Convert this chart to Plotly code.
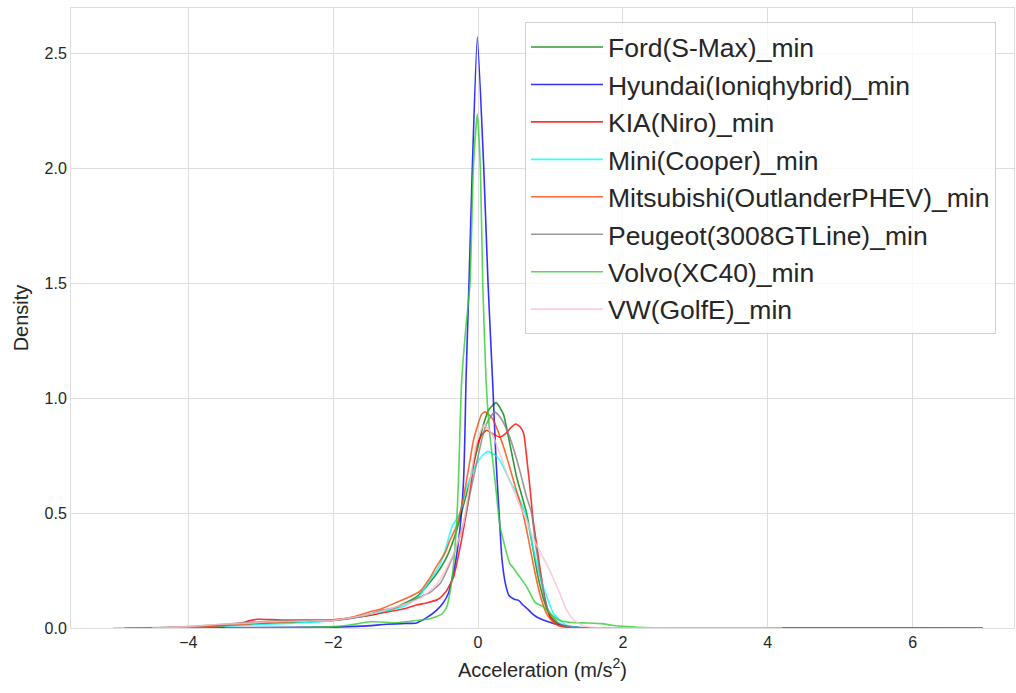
import plotly.graph_objects as go

# ---- data ----
names = ["Ford(S-Max)_min", "Hyundai(Ioniqhybrid)_min", "KIA(Niro)_min", "Mini(Cooper)_min",
         "Mitsubishi(OutlanderPHEV)_min", "Peugeot(3008GTLine)_min", "Volvo(XC40)_min", "VW(GolfE)_min"]
colors = ["#008000", "#0000ff", "#ff0000", "#00ffff", "#ff4500", "#808080", "#32cd32", "#ffc0cb"]

ford_x = [-4.3, -3.8, -3.3, -2.8, -2.4, -2.0, -1.6, -1.3, -1.1, -0.85, -0.66, -0.52, -0.43, -0.3, -0.23, -0.12,
          -0.06, 0.0, 0.07, 0.15, 0.25, 0.35, 0.42, 0.53, 0.6, 0.67, 0.75, 0.83, 0.92, 1.0, 1.1, 1.25, 1.5]
ford_y = [0, 0.006, 0.015, 0.022, 0.027, 0.033, 0.05, 0.07, 0.095, 0.135, 0.2, 0.26, 0.31, 0.42, 0.5, 0.63,
          0.716, 0.79, 0.88, 0.95, 0.98, 0.93, 0.83, 0.66, 0.58, 0.5, 0.36, 0.22, 0.11, 0.05, 0.02, 0.004, 0]

hyundai_x = [-4.0, -3.0, -2.0, -1.6, -1.26, -1.0, -0.85, -0.71, -0.57, -0.48, -0.41, -0.32, -0.25, -0.2, -0.18,
             -0.166, -0.125, -0.079, -0.01, 0.079, 0.138, 0.2, 0.25, 0.3, 0.33, 0.38, 0.43, 0.5, 0.56, 0.62, 0.67,
             0.74, 0.81, 0.9, 0.99, 1.1, 1.22, 1.4, 1.6]
hyundai_y = [0.0, 0.002, 0.004, 0.008, 0.016, 0.02, 0.022, 0.045, 0.078, 0.11, 0.15, 0.27, 0.43, 0.64, 0.86,
             1.08, 1.5, 2.0, 2.57, 2.0, 1.5, 1.08, 0.72, 0.45, 0.3, 0.19, 0.14, 0.125, 0.12, 0.1, 0.087,
             0.065, 0.048, 0.035, 0.025, 0.015, 0.008, 0.002, 0]

kia_x = [-4.0, -3.6, -3.3, -3.15, -3.05, -2.85, -2.65, -2.3, -2.0, -1.75, -1.5, -1.25, -1.0, -0.85, -0.7, -0.55,
         -0.45, -0.34, -0.23, -0.11, -0.02, 0.05, 0.12, 0.2, 0.3, 0.38, 0.45, 0.52, 0.58, 0.63, 0.67, 0.72, 0.76,
         0.81, 0.86, 0.93, 1.0, 1.1, 1.25, 1.5, 2.5, 4.0, 5.5, 6.97]
kia_y = [0.0, 0.008, 0.02, 0.032, 0.038, 0.037, 0.034, 0.035, 0.036, 0.045, 0.055, 0.07, 0.085, 0.1, 0.11, 0.125,
         0.155, 0.22, 0.38, 0.6, 0.79, 0.84, 0.86, 0.845, 0.83, 0.845, 0.87, 0.887, 0.875, 0.846, 0.745, 0.6, 0.47,
         0.36, 0.25, 0.12, 0.045, 0.012, 0.003, 0.0, 0.0, 0.001, 0.001, 0]

mini_x = [-5.04, -4.5, -4.0, -3.5, -3.0, -2.6, -2.18, -1.8, -1.49, -1.25, -1.03, -0.85, -0.8, -0.66, -0.57, -0.48,
          -0.36, -0.25, -0.16, -0.02, 0.06, 0.14, 0.22, 0.3, 0.44, 0.56, 0.67, 0.76, 0.86, 0.95, 1.04, 1.18, 1.3, 1.5]
mini_y = [0, 0.001, 0.003, 0.008, 0.015, 0.02, 0.027, 0.04, 0.061, 0.075, 0.093, 0.129, 0.143, 0.21, 0.25, 0.31,
          0.44, 0.5, 0.61, 0.716, 0.75, 0.767, 0.755, 0.73, 0.64, 0.57, 0.48, 0.35, 0.22, 0.136, 0.064, 0.02, 0.005, 0]

mitsu_x = [-4.88, -4.3, -3.8, -3.4, -3.1, -2.8, -2.41, -1.95, -1.7, -1.49, -1.35, -1.12, -0.95, -0.8, -0.66, -0.57,
           -0.45, -0.39, -0.3, -0.2, -0.1, -0.06, 0.05, 0.1, 0.2, 0.35, 0.5, 0.62, 0.7, 0.78, 0.86, 0.95, 1.05, 1.2,
           1.5, 2.5, 4.35, 5.5, 6.97]
mitsu_y = [0, 0.002, 0.006, 0.012, 0.02, 0.025, 0.03, 0.035, 0.05, 0.071, 0.082, 0.112, 0.135, 0.16, 0.22, 0.27,
           0.33, 0.38, 0.44, 0.57, 0.75, 0.82, 0.93, 0.94, 0.91, 0.79, 0.63, 0.5, 0.38, 0.25, 0.14, 0.06, 0.02, 0.004,
           0.0, 0.0, 0.001, 0.001, 0]

peugeot_x = [-4.5, -4.0, -3.33, -3.0, -2.64, -2.3, -1.95, -1.6, -1.35, -1.12, -0.8, -0.66, -0.52, -0.43, -0.3, -0.2,
             -0.1, -0.02, 0.06, 0.12, 0.23, 0.32, 0.4, 0.5, 0.58, 0.67, 0.74, 0.78, 0.86, 0.95, 1.05, 1.15, 1.3, 1.5]
peugeot_y = [0, 0.006, 0.02, 0.027, 0.035, 0.034, 0.035, 0.05, 0.075, 0.09, 0.135, 0.155, 0.195, 0.25, 0.35, 0.455,
             0.6, 0.716, 0.83, 0.89, 0.94, 0.91, 0.86, 0.77, 0.68, 0.57, 0.5, 0.4, 0.23, 0.09, 0.04, 0.015, 0.003, 0]

volvo_x = [-3.5, -2.5, -2.0, -1.77, -1.49, -1.12, -0.8, -0.66, -0.5, -0.43, -0.39, -0.35, -0.30, -0.27, -0.25,
           -0.225, -0.17, -0.11, -0.065, -0.01, 0.032, 0.065, 0.11, 0.16, 0.235, 0.3, 0.35, 0.44, 0.49, 0.58, 0.67,
           0.79, 0.9, 0.99, 1.13, 1.3, 1.5, 1.7, 1.85, 2.0, 2.3, 2.6]
volvo_y = [0, 0.002, 0.006, 0.013, 0.027, 0.023, 0.035, 0.04, 0.06, 0.093, 0.15, 0.24, 0.43, 0.64, 0.86,
           1.08, 1.3, 1.5, 2.0, 2.235, 2.0, 1.5, 1.08, 0.85, 0.64, 0.45, 0.38, 0.28, 0.26, 0.22, 0.18,
           0.11, 0.093, 0.064, 0.033, 0.024, 0.022, 0.019, 0.012, 0.007, 0.002, 0]

vw_x = [-4.5, -4.0, -3.56, -3.2, -2.87, -2.4, -2.0, -1.49, -1.2, -0.8, -0.57, -0.34, -0.2, -0.1, 0.0, 0.083, 0.2,
        0.3, 0.4, 0.49, 0.58, 0.67, 0.76, 0.86, 0.99, 1.06, 1.13, 1.22, 1.32, 1.45, 1.6, 2.5, 3.5, 4.2]
vw_y = [0, 0.006, 0.016, 0.02, 0.027, 0.03, 0.033, 0.06, 0.085, 0.129, 0.19, 0.32, 0.455, 0.66, 0.83, 0.883, 0.84,
        0.76, 0.67, 0.6, 0.53, 0.47, 0.39, 0.33, 0.25, 0.2, 0.15, 0.08, 0.035, 0.01, 0.002, 0.001, 0.001, 0]

xs = [ford_x, hyundai_x, kia_x, mini_x, mitsu_x, peugeot_x, volvo_x, vw_x]
ys = [ford_y, hyundai_y, kia_y, mini_y, mitsu_y, peugeot_y, volvo_y, vw_y]

x_tick_vals = [-4, -2, 0, 2, 4, 6]
y_tick_vals = [0.0, 0.5, 1.0, 1.5, 2.0, 2.5]

FONT = "Liberation Sans, Arial, sans-serif"
GRID = "#dedede"

fig = go.Figure()
for i, (n, c, x, y) in enumerate(zip(names, colors, xs, ys)):
    fig.add_trace(go.Scatter(x=x, y=y, mode="lines", name=n, legendgroup=f"g{i}",
                             line=dict(color=c, width=1.6, shape="spline", smoothing=0.5), opacity=0.8))

fig.update_layout(
    width=1016, height=693,
    margin=dict(l=71, r=2, t=8, b=65),
    paper_bgcolor="white", plot_bgcolor="white",
    font=dict(family=FONT, color="#262626"),
    legend=dict(x=0.4814, y=0.977, xanchor="left", yanchor="top",
                font=dict(size=26.5, family=FONT, color="#262626"),
                bgcolor="rgba(255,255,255,0.8)", bordercolor="#d0d0d0", borderwidth=1,
                tracegroupgap=0, itemwidth=72),
    xaxis=dict(range=[-5.62, 7.40], tickvals=x_tick_vals, showgrid=True, gridcolor=GRID, gridwidth=1,
               zeroline=False, showline=True, linecolor=GRID, linewidth=1, mirror=True,
               ticks="", tickfont=dict(size=16), title=dict(text="Acceleration (m/s<sup>2</sup>)",
               font=dict(size=20), standoff=12)),
    yaxis=dict(range=[0, 2.696], tickvals=y_tick_vals, tickformat=".1f", showgrid=True, gridcolor=GRID,
               gridwidth=1, zeroline=False, showline=True, linecolor=GRID, linewidth=1, mirror=True,
               ticks="", tickfont=dict(size=16), title=dict(text="Density", font=dict(size=20), standoff=10)),
)

fig.write_html("out.html")
